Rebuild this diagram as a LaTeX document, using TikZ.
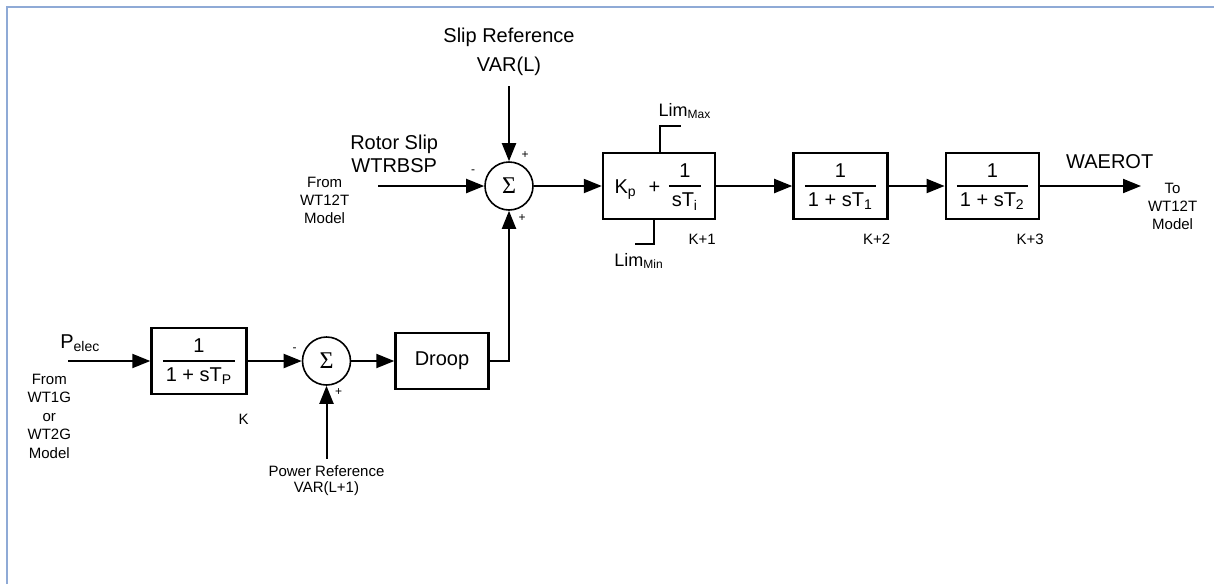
\documentclass[tikz,border=0pt]{standalone}
\usepackage{xcolor}
\usepackage{amsmath}
\usepackage{fontspec}
\setmainfont{Liberation Sans}
\newfontfamily\sigmafont{Liberation Serif}
\usepackage{tikz}
\usetikzlibrary{shapes,arrows.meta,positioning,calc}
\definecolor{framecol}{RGB}{143,170,214}
\newcommand{\blkfrac}[2]{\raisebox{-2.5pt}{$\genfrac{}{}{1pt}{0}{\mbox{#1}}{\mbox{\hspace{1.5pt}#2\hspace{1.5pt}}}$}}
\tikzset{
    block/.style={
        rectangle,
        draw,
        line width=1.2pt,
        inner sep=0pt,
        minimum height=33pt,
        font=\fontsize{10}{12}\selectfont
    },
    tfblock/.style={block, text height=10pt, text depth=10pt},
    sumnode/.style={circle, draw, line width=0.8pt, minimum size=24pt, inner sep=0pt,
        font=\sigmafont\fontsize{12}{14}\selectfont},
    biglbl/.style={align=center, inner sep=1pt, font=\fontsize{10}{14.5}\selectfont},
    smalllbl/.style={align=center, inner sep=1pt, font=\fontsize{7.5}{9}\selectfont},
    limlbl/.style={inner sep=1pt, font=\fontsize{9}{11}\selectfont},
    signlbl/.style={inner sep=0pt, font=\fontsize{6}{7}\selectfont}
}
\begin{document}
\begin{tikzpicture}[node distance=30pt, line width=1pt, >={Triangle[length=9pt,width=7pt]}]
    \useasboundingbox (0,0) rectangle (607pt,-292pt);
    \draw [framecol, line width=0.75pt] (3.5pt,-292pt) -- (3.5pt,-3.5pt) -- (607pt,-3.5pt);

    % slip loop
    \node (sum1) [sumnode] at (254.5pt,-93pt) {Σ};
    \node (pi) [tfblock, minimum width=56pt, right=34pt of sum1] {\raisebox{-3.6pt}{K\textsubscript{p}\hspace{6pt}+}\hspace{3pt}\blkfrac{1}{sT\textsubscript{i}}};
    \node (blk2) [tfblock, minimum width=47pt, right=38pt of pi] {\blkfrac{1}{1 + sT\textsubscript{1}}};
    \node (blk3) [tfblock, minimum width=46.5pt, right=28pt of blk2] {\blkfrac{1}{1 + sT\textsubscript{2}}};
    \coordinate [right=50.5pt of blk3] (outend);
    \coordinate [above=37.5pt of sum1] (slipin);
    \coordinate [left=53pt of sum1] (rotorin);

    % power loop
    \node (sum2) [sumnode] at (163.25pt,-180.5pt) {Σ};
    \node (blkp) [tfblock, minimum width=47.5pt, left=27pt of sum2] {\blkfrac{1}{1 + sT\textsubscript{P}}};
    \node (droop) [block, minimum width=46.5pt, minimum height=28pt, right=21.5pt of sum2] {Droop};
    \coordinate [left=41pt of blkp] (pelecin);
    \coordinate [below=36.5pt of sum2] (pwrin);

    % limits
    \coordinate (limmaxc) at ($(pi.north)+(0.5pt,13pt)$);
    \coordinate (limmaxe) at ($(limmaxc)+(10.5pt,0pt)$);
    \coordinate (limminc) at ($(pi.south)+(-2.5pt,-12pt)$);
    \coordinate (limmine) at ($(limminc)+(-9.5pt,0pt)$);
    \draw [line width=0.8pt] ([xshift=0.5pt]pi.north) -- (limmaxc) -- (limmaxe);
    \draw [line width=0.8pt] ([xshift=-2.5pt]pi.south) -- (limminc) -- (limmine);
    \node (limmax) [limlbl, above=2pt of limmaxe, xshift=2pt] {Lim\textsubscript{Max}};
    \node (limmin) [limlbl, below=3pt of limmine, xshift=2pt] {Lim\textsubscript{Min}};

    % texts
    \node (slipref) [biglbl, above=4pt of slipin] {Slip Reference\\VAR(L)};
    \node (rotorlbl) [biglbl, above=5pt of rotorin, xshift=8pt, font=\fontsize{10}{11.5}\selectfont] {Rotor Slip\\WTRBSP};
    \node (fromwt12t) [smalllbl, left=13pt of rotorin, yshift=-7pt] {From\\WT12T\\Model};
    \node (towt12t) [smalllbl, right=2pt of outend, yshift=-10pt] {To\\WT12T\\Model};
    \node (pelec) [biglbl, above=3pt of pelecin, xshift=6pt] {P\textsubscript{elec}};
    \node (fromwt1g) [smalllbl, below=5pt of pelecin, xshift=-9.5pt, font=\fontsize{7.5}{9.25}\selectfont] {From\\WT1G\\or\\WT2G\\Model};
    \node (pwrref) [smalllbl, below=2pt of pwrin, font=\fontsize{7.5}{8}\selectfont] {Power Reference\\VAR(L+1)};
    \node (kp) [smalllbl, below left=7.8pt and -2pt of blkp.south east] {K};
    \node (k1) [smalllbl, below left=5.3pt and -1.3pt of pi.south east] {K+1};
    \node (k2) [smalllbl, below left=5.3pt and -2.3pt of blk2.south east] {K+2};
    \node (k3) [smalllbl, below left=5.3pt and -3.3pt of blk3.south east] {K+3};

    % signs
    \node (s1a) [signlbl] at ($(sum1)+(8pt,15.5pt)$) {+};
    \node (s1b) [signlbl] at ($(sum1)+(-18pt,7pt)$) {-};
    \node (s1c) [signlbl] at ($(sum1)+(6.5pt,-16pt)$) {+};
    \node (s2a) [signlbl] at ($(sum2)+(-16pt,5.5pt)$) {-};
    \node (s2b) [signlbl] at ($(sum2)+(6pt,-15.5pt)$) {+};

    \draw [->] (slipin) -- (sum1);
    \draw [->] (rotorin) -- (sum1);
    \draw [->] (sum1) -- (pi);
    \draw [->] (pi) -- (blk2);
    \draw [->] (blk2) -- (blk3);
    \draw [->] (blk3) -- node (waerot) [biglbl, pos=0.69, above=7pt] {WAEROT} (outend);
    \draw [->] (pelecin) -- (blkp);
    \draw [->] (blkp) -- (sum2);
    \draw [->] (pwrin) -- (sum2);
    \draw [->] (sum2) -- (droop);
    \draw [->] (droop) -| (sum1);
\end{tikzpicture}
\end{document}
